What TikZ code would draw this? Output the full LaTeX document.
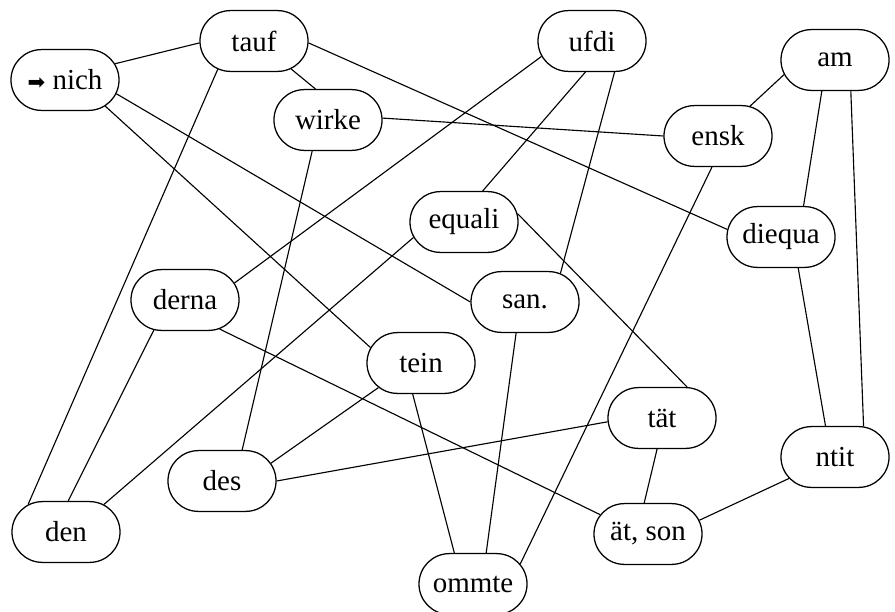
\documentclass[tikz,border=0pt]{standalone}
\usepackage{fontspec}
\setmainfont{Liberation Serif}
\newfontfamily\symfont{DejaVu Sans}
\usetikzlibrary{shapes.misc}
\tikzset{
  word/.style={rounded rectangle, draw, line width=0.9pt,
    minimum width=2.7cm, minimum height=1.52cm, inner sep=0pt,
    font=\fontsize{20.6}{23}\selectfont},
  link/.style={line width=0.8pt}
}
\begin{document}
\begin{tikzpicture}[x=0.025cm, y=-0.025cm]
      \useasboundingbox (0,0) rectangle (895,612);
      \node [word] (nich) at (65,80) {{\symfont\fontsize{15}{15}\selectfont\char"27A1} nich};
      \node [word] (tauf) at (254,41) {tauf};
      \node [word] (wirke) at (328,120) {wirke};
      \node [word] (ufdi) at (592,41) {ufdi};
      \node [word] (am) at (835,60) {am};
      \node [word] (ensk) at (718,136) {ensk};
      \node [word] (equali) at (464,222) {equali};
      \node [word] (diequa) at (781,237) {diequa};
      \node [word] (derna) at (185,300) {derna};
      \node [word] (san) at (525,302) {san.};
      \node [word] (tein) at (421,363) {tein};
      \node [word] (tat) at (662,418) {tät};
      \node [word] (ntit) at (835,457) {ntit};
      \node [word] (des) at (222,481) {des};
      \node [word] (den) at (66,532) {den};
      \node [word] (atson) at (648,534) {ät, son};
      \node [word] (ommte) at (473,584) {ommte};
      % connectors
      \draw [link] (nich.18) -- (tauf.182);
      \draw [link] (nich.-15) -- (san.180);
      \draw [link] (nich.-33) -- (tein.163);
      \draw [link] (tauf.-37) -- (wirke.112);
      \draw [link] (tauf.-142) -- (den.144);
      \draw [link] (tauf.-2) -- (diequa.172);
      \draw [link] (wirke.2) -- (ensk.180);
      \draw [link] (wirke.-117) -- (des.57);
      \draw [link] (ufdi.-163) -- (derna.19);
      \draw [link] (ufdi.-102) -- (equali.59);
      \draw [link] (ufdi.-54) -- (san.39);
      \draw [link] (am.-164) -- (ensk.43);
      \draw [link] (am.-113) -- (diequa.54);
      \draw [link] (am.-63) -- (ntit.47);
      \draw [link] (ensk.-101) -- (ommte.23);
      \draw [link] (equali.-163) -- (den.36);
      \draw [link] (equali.9) -- (tat.51);
      \draw [link] (diequa.-61) -- (ntit.107);
      \draw [link] (derna.-136) -- (den.86);
      \draw [link] (derna.-40) -- (atson.158);
      \draw [link] (san.-106) -- (ommte.67);
      \draw [link] (tein.-150) -- (des.20);
      \draw [link] (tein.-105) -- (ommte.121);
      \draw [link] (tat.184) -- (des.0);
      \draw [link] (tat.-99) -- (atson.97);
      \draw [link] (ntit.-155) -- (atson.15);
    \end{tikzpicture}
\end{document}
